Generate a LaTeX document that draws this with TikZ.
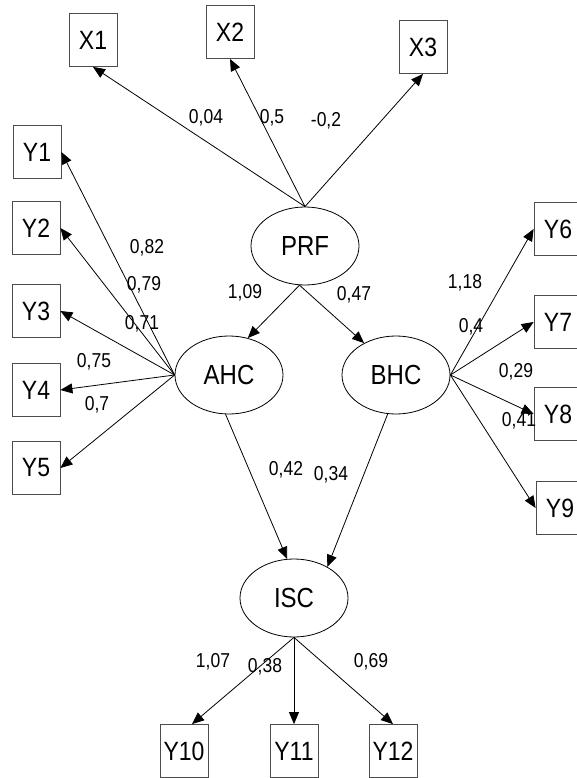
\documentclass[tikz,border=0pt]{standalone}
\usepackage{fontspec}
\setmainfont{Liberation Sans}
\usetikzlibrary{arrows.meta,shapes.geometric}
\newcommand{\stretchtxt}[1]{\scalebox{1}[1.15]{#1}}
\tikzset{
  obsbox/.style={draw=black!70, line width=0.8pt, minimum width=48pt, minimum height=53pt, inner sep=0pt, font=\fontsize{23}{23}\selectfont},
  latent/.style={draw=black, ellipse, line width=0.8pt, minimum width=108pt, minimum height=78pt, inner sep=0pt, font=\fontsize{24}{24}\selectfont},
  coef/.style={inner sep=0pt, font=\fontsize{17.5}{17.5}\selectfont},
  path/.style={line width=0.8pt, -{Triangle[length=12pt,width=10pt]}}
}
\begin{document}
\begin{tikzpicture}[x=1pt,y=-1pt]
\useasboundingbox (0,0) rectangle (576,778);
% observed boxes
\node[obsbox] (X1) at (93,40) {\stretchtxt{X1}};
\node[obsbox] (X2) at (230,32) {\stretchtxt{X2}};
\node[obsbox] (X3) at (423,47) {\stretchtxt{X3}};
\node[obsbox] (Y1) at (37,152) {\stretchtxt{Y1}};
\node[obsbox] (Y2) at (36,228) {\stretchtxt{Y2}};
\node[obsbox] (Y3) at (36,311) {\stretchtxt{Y3}};
\node[obsbox] (Y4) at (36,390) {\stretchtxt{Y4}};
\node[obsbox] (Y5) at (36,468) {\stretchtxt{Y5}};
\node[obsbox] (Y6) at (558,229) {\stretchtxt{Y6}};
\node[obsbox] (Y7) at (558,322) {\stretchtxt{Y7}};
\node[obsbox] (Y8) at (558,414) {\stretchtxt{Y8}};
\node[obsbox] (Y9) at (560,508) {\stretchtxt{Y9}};
\node[obsbox] (Y10) at (184,751) {\stretchtxt{Y10}};
\node[obsbox] (Y11) at (294,751) {\stretchtxt{Y11}};
\node[obsbox] (Y12) at (393,751) {\stretchtxt{Y12}};
% latent
\node[latent] (PRF) at (305,246) {\stretchtxt{PRF}};
\node[latent] (AHC) at (229,375) {\stretchtxt{AHC}};
\node[latent] (BHC) at (396,375) {\stretchtxt{BHC}};
\node[latent] (ISC) at (294,598) {\stretchtxt{ISC}};
% connectors
\draw[path] (PRF.north) -- (X1.south);
\draw[path] (PRF.north) -- (X2.south);
\draw[path] (PRF.north) -- (X3.south);
\draw[path] (PRF.262) -- (AHC.63);
\draw[path] (PRF.262) -- (BHC.135);
\foreach \t in {Y1,Y2,Y3,Y4,Y5} \draw[path] (AHC.west) -- (\t.east);
\foreach \t in {Y6,Y7,Y8,Y9} \draw[path] (BHC.east) -- (\t.west);
\draw[path] (AHC.265) -- (ISC.100);
\draw[path] (BHC.258) -- (ISC.43);
\draw[path] (ISC.south) -- ([xshift=8pt]Y10.north);
\draw[path] (ISC.south) -- (Y11.north);
\draw[path] (ISC.south) -- (Y12.north);
% coefficients
\node[coef] (c1) at (206,118) {\stretchtxt{0,04}};
\node[coef] (c2) at (272,118) {\stretchtxt{0,5}};
\node[coef] (c3) at (326,121) {\stretchtxt{-0,2}};
\node[coef] (c4) at (147,248) {\stretchtxt{0,82}};
\node[coef] (c5) at (144,285) {\stretchtxt{0,79}};
\node[coef] (c6) at (142,324) {\stretchtxt{0,71}};
\node[coef] (c7) at (94,362) {\stretchtxt{0,75}};
\node[coef] (c8) at (97,405) {\stretchtxt{0,7}};
\node[coef] (c9) at (245,293) {\stretchtxt{1,09}};
\node[coef] (c10) at (354,295) {\stretchtxt{0,47}};
\node[coef] (c11) at (465,283) {\stretchtxt{1,18}};
\node[coef] (c12) at (471,327) {\stretchtxt{0,4}};
\node[coef] (c13) at (516,372) {\stretchtxt{0,29}};
\node[coef] (c14) at (519,421) {\stretchtxt{0,41}};
\node[coef] (c15) at (286,470) {\stretchtxt{0,42}};
\node[coef] (c16) at (331,475) {\stretchtxt{0,34}};
\node[coef] (c17) at (213,662) {\stretchtxt{1,07}};
\node[coef] (c18) at (265,667) {\stretchtxt{0,38}};
\node[coef] (c19) at (371,662) {\stretchtxt{0,69}};
\end{tikzpicture}
\end{document}
